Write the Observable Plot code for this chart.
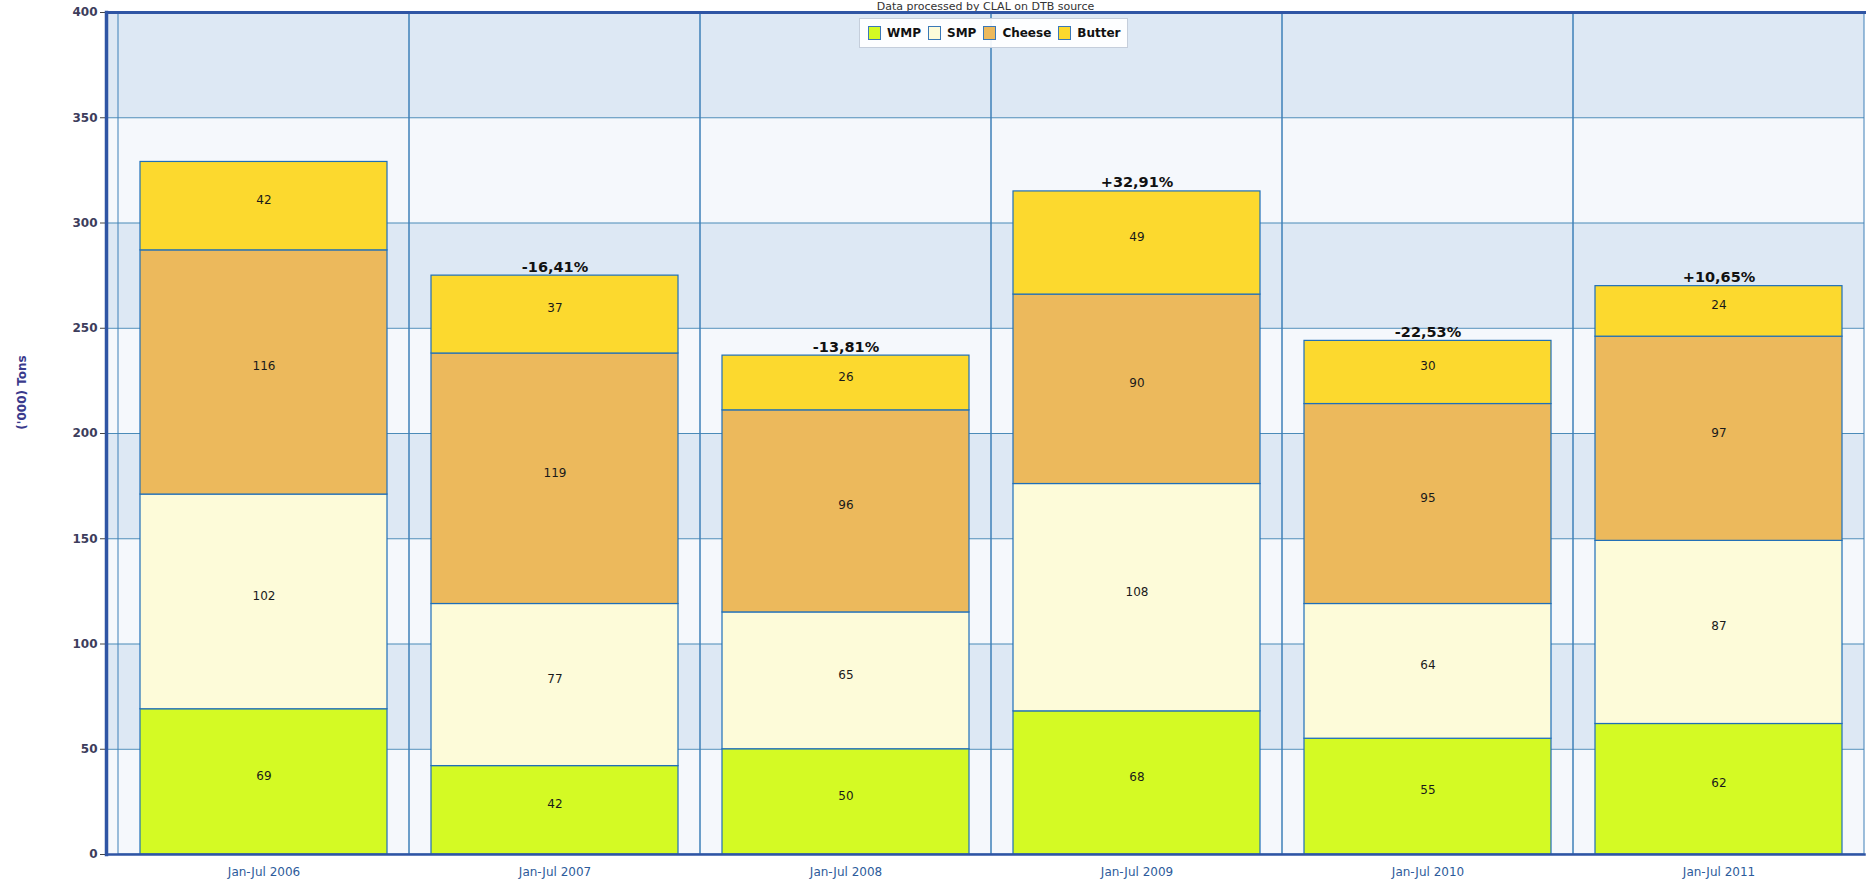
<!DOCTYPE html>
<html>
<head>
<meta charset="utf-8">
<script src="https://cdn.jsdelivr.net/npm/d3@7"></script>
<script src="https://cdn.jsdelivr.net/npm/@observablehq/plot@0.6"></script>
<style>
  body { margin: 0; background: #fff; font-family: "DejaVu Sans", sans-serif; }
  #wrap { position: relative; width: 1871px; height: 882px; overflow: hidden; }
  #legend { position: absolute; left: 859px; top: 18px; height: 30px; box-sizing: border-box;
    padding: 0 6px 0 8px; background: rgba(255,255,255,0.92); border: 1px solid #c5cedb;
    display: flex; align-items: center; gap: 0; font: bold 12px "DejaVu Sans", sans-serif; color: #111; }
  #legend .item { display: flex; align-items: center; margin-right: 7px; }
  #legend .item:last-child { margin-right: 0; }
  #legend .sw { width: 11px; height: 12px; border: 1.5px solid #3a78b8; margin-right: 6px; }
</style>
</head>
<body>
<div id="wrap"></div>
<script>
const periods = ["Jan-Jul 2006", "Jan-Jul 2007", "Jan-Jul 2008", "Jan-Jul 2009", "Jan-Jul 2010", "Jan-Jul 2011"];
const series = ["WMP", "SMP", "Cheese", "Butter"];
const seriesColors = ["#d4fa24", "#fdfbd9", "#ecb95c", "#fcd92e"];
const wmp    = [69, 42, 50, 68, 55, 62];
const smp    = [102, 77, 65, 108, 64, 87];
const cheese = [116, 119, 96, 90, 95, 97];
const butter = [42, 37, 26, 49, 30, 24];
const changes = ["", "-16,41%", "-13,81%", "+32,91%", "-22,53%", "+10,65%"];
const yTicks = [0, 50, 100, 150, 200, 250, 300, 350, 400];
const subtitle = "Data processed by CLAL on DTB source";
const yLabel = "('000) Tons";

const values = [wmp, smp, cheese, butter];
const long = periods.flatMap((p, i) => series.map((s, j) => ({period: p, series: s, value: values[j][i]})));
const totals = periods.map((p, i) => ({period: p, total: d3.sum(values, v => v[i]), label: changes[i]}));
const stripes = yTicks.slice(0, -1).map((v, i) => ({y1: v, y2: yTicks[i + 1], i}));
const yMax = yTicks[yTicks.length - 1];

const chart = Plot.plot({
  width: 1871,
  height: 882,
  marginLeft: 106,
  marginRight: 7,
  marginTop: 12,
  marginBottom: 28,
  style: {fontFamily: "DejaVu Sans, sans-serif", background: "#fff"},
  x: {type: "band", domain: periods, padding: 0, insetLeft: 11},
  y: {domain: [0, yMax]},
  color: {domain: series, range: seriesColors},
  marks: [
    Plot.rect(stripes.filter(d => d.i % 2 === 1), {y1: "y1", y2: "y2", fill: "#dde8f4"}),
    Plot.rect(stripes.filter(d => d.i % 2 === 0), {y1: "y1", y2: "y2", fill: "#f5f8fc"}),
    Plot.ruleY(yTicks, {stroke: "#4b8bb8", strokeWidth: 1}),
    Plot.barY(periods, {x: d => d, y1: () => 0, y2: () => yMax, fill: "none", stroke: "#3f80b8", strokeWidth: 1}),
    Plot.barY(long, {x: "period", y: "value", fill: "series", stroke: "#1f6fb8", strokeWidth: 1.2, insetLeft: 22, insetRight: 22}),
    Plot.text(long, Plot.stackY({x: "period", y: "value", text: d => String(d.value), fill: "#1a1a1a", fontSize: 12, dy: -6})),
    Plot.text(totals, {x: "period", y: "total", text: "label", lineAnchor: "bottom", dy: -4, fontWeight: "bold", fontSize: 14.5, fill: "#111"}),
    Plot.axisY({ticks: yTicks, tickSize: 6, tickPadding: 3, fontWeight: "bold", fontSize: 12, fill: "#3d3d5c", stroke: "#444", label: null}),
    Plot.axisX({tickSize: 0, tickPadding: 13, fill: "#2d5b9b", fontSize: 12, label: null}),
    Plot.text([yLabel], {frameAnchor: "left", textAnchor: "middle", dx: -84, dy: -41, rotate: -90, fontWeight: "bold", fontSize: 12, fill: "#3a3a8c"}),
    Plot.text([subtitle], {frameAnchor: "top", dy: -3, lineAnchor: "bottom", fontSize: 11, fill: "#333"}),
    Plot.frame({anchor: "left", stroke: "#2f55a4", strokeWidth: 3.5}),
    Plot.frame({anchor: "top", stroke: "#2f55a4", strokeWidth: 3}),
    Plot.frame({anchor: "bottom", stroke: "#2f55a4", strokeWidth: 2.5})
  ]
});

const wrap = document.getElementById("wrap");
wrap.appendChild(chart);

const legend = d3.select(wrap).append("div").attr("id", "legend");
const items = legend.selectAll(".item").data(series).join("div").attr("class", "item");
items.append("div").attr("class", "sw").style("background", (d, i) => seriesColors[i]);
items.append("span").text(d => d);
</script>
</body>
</html>
